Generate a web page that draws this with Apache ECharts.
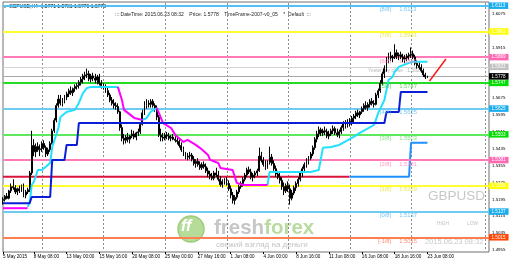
<!DOCTYPE html>
<html><head><meta charset="utf-8">
<script src="https://cdn.jsdelivr.net/npm/echarts@6/dist/echarts.min.js"></script>
<style>html,body{margin:0;padding:0;background:#fff}#c{width:510px;height:262px}</style>
</head><body><div id="c"></div>
<script>
// ---------- data (prices in 1/10000 above 1.0000: 5190 -> 1.5190) ----------
// candles: [open, high, low, close], GBPUSD H4 from 5 May 20:00 to 23 Jun 08:00
const candles = [
[5190,5205,5170,5195],[5195,5215,5185,5210],[5210,5225,5195,5200],[5200,5240,5195,5235],[5235,5270,5225,5255],[5255,5290,5240,5250],
[5250,5262,5220,5230],[5230,5250,5215,5245],[5245,5260,5225,5235],[5235,5265,5230,5255],[5255,5270,5205,5215],[5215,5240,5200,5230],
[5230,5250,5220,5240],[5240,5330,5230,5320],[5320,5520,5310,5450],[5450,5480,5400,5420],[5420,5460,5395,5445],[5445,5465,5420,5430],
[5430,5455,5400,5435],[5435,5470,5420,5460],[5460,5475,5430,5440],[5440,5450,5395,5410],[5410,5440,5400,5430],[5430,5470,5420,5460],
[5460,5530,5455,5520],[5520,5580,5510,5570],[5570,5650,5560,5640],[5640,5690,5630,5670],[5670,5690,5640,5650],[5650,5675,5635,5665],
[5665,5690,5650,5680],[5680,5705,5665,5695],[5695,5720,5680,5710],[5710,5730,5690,5700],[5700,5725,5685,5720],[5720,5740,5705,5730],
[5730,5745,5715,5735],[5735,5760,5720,5750],[5750,5775,5735,5765],[5765,5790,5745,5780],[5780,5800,5760,5785],[5785,5815,5770,5790],
[5790,5805,5755,5765],[5765,5790,5750,5780],[5780,5795,5755,5770],[5770,5790,5745,5760],[5760,5785,5740,5775],[5775,5790,5735,5745],
[5745,5760,5720,5735],[5735,5745,5715,5725],[5725,5740,5700,5710],[5710,5725,5680,5690],[5690,5700,5655,5665],[5665,5680,5640,5650],
[5650,5670,5625,5640],[5640,5655,5620,5635],[5635,5650,5600,5610],[5610,5615,5520,5535],[5535,5550,5470,5485],[5485,5505,5455,5475],
[5475,5500,5460,5490],[5490,5510,5465,5480],[5480,5500,5460,5495],[5495,5525,5485,5505],[5505,5520,5480,5490],[5490,5515,5475,5510],
[5510,5530,5495,5515],[5515,5560,5505,5550],[5550,5620,5545,5605],[5605,5660,5595,5640],[5640,5670,5625,5650],[5650,5665,5630,5645],
[5645,5670,5630,5660],[5660,5670,5630,5640],[5640,5650,5610,5625],[5625,5640,5570,5585],[5585,5595,5490,5500],[5500,5530,5470,5490],
[5490,5510,5470,5485],[5485,5510,5475,5500],[5500,5515,5480,5495],[5495,5510,5475,5485],[5485,5500,5470,5490],[5490,5505,5475,5480],
[5480,5495,5465,5475],[5475,5490,5455,5470],[5470,5480,5440,5450],[5450,5465,5420,5430],[5430,5445,5400,5410],[5410,5420,5385,5395],
[5395,5415,5380,5400],[5400,5420,5385,5405],[5405,5415,5375,5385],[5385,5400,5355,5365],[5365,5385,5345,5375],[5375,5390,5350,5360],
[5360,5375,5335,5345],[5345,5370,5335,5360],[5360,5375,5340,5350],[5350,5365,5320,5330],[5330,5345,5300,5315],[5315,5330,5290,5305],
[5305,5320,5285,5295],[5295,5330,5285,5320],[5320,5345,5300,5310],[5310,5330,5280,5290],[5290,5305,5255,5265],[5265,5290,5250,5280],
[5280,5295,5265,5285],[5285,5300,5260,5270],[5270,5285,5235,5245],[5245,5260,5200,5215],[5215,5230,5175,5190],[5190,5215,5170,5205],
[5205,5240,5195,5230],[5230,5265,5220,5255],[5255,5280,5245,5270],[5270,5300,5255,5290],[5290,5320,5280,5310],[5310,5345,5300,5335],
[5335,5350,5315,5325],[5325,5340,5290,5300],[5300,5320,5280,5310],[5310,5330,5295,5320],[5320,5340,5305,5330],[5330,5440,5325,5400],
[5400,5420,5370,5380],[5380,5395,5350,5360],[5360,5380,5335,5345],[5345,5380,5340,5370],[5370,5445,5360,5395],[5395,5410,5355,5365],
[5365,5380,5330,5340],[5340,5355,5300,5315],[5315,5330,5290,5300],[5300,5320,5270,5285],[5285,5300,5240,5255],[5255,5275,5215,5235],
[5235,5270,5225,5260],[5260,5280,5230,5245],[5245,5265,5170,5200],[5200,5240,5190,5225],[5225,5260,5215,5250],[5250,5280,5235,5270],
[5270,5300,5255,5290],[5290,5330,5280,5320],[5320,5350,5300,5340],[5340,5370,5325,5360],[5360,5390,5345,5375],[5375,5400,5360,5390],
[5390,5420,5380,5410],[5410,5450,5400,5440],[5440,5490,5430,5480],[5480,5520,5465,5505],[5505,5540,5490,5525],[5525,5535,5495,5510],
[5510,5530,5495,5520],[5520,5540,5500,5515],[5515,5530,5485,5495],[5495,5520,5480,5505],[5505,5530,5495,5520],[5520,5545,5505,5530],
[5530,5540,5500,5510],[5510,5530,5490,5500],[5500,5525,5485,5515],[5515,5545,5505,5535],[5535,5565,5520,5555],[5555,5570,5530,5545],
[5545,5575,5535,5565],[5565,5580,5540,5555],[5555,5590,5545,5580],[5580,5600,5560,5590],[5590,5615,5575,5605],[5605,5620,5585,5595],
[5595,5615,5580,5610],[5610,5635,5600,5625],[5625,5650,5610,5640],[5640,5660,5620,5630],[5630,5655,5615,5645],[5645,5670,5630,5660],
[5660,5675,5640,5650],[5650,5665,5630,5645],[5645,5700,5640,5690],[5690,5720,5675,5710],[5710,5760,5700,5745],[5745,5800,5735,5790],
[5790,5830,5770,5815],[5815,5870,5800,5855],[5855,5890,5840,5875],[5875,5895,5850,5865],[5865,5880,5845,5870],[5870,5930,5860,5890],
[5890,5905,5860,5875],[5875,5890,5855,5880],[5880,5895,5860,5870],[5870,5885,5845,5860],[5860,5880,5840,5865],[5865,5885,5850,5875],
[5875,5890,5855,5880],[5880,5915,5865,5885],[5885,5900,5860,5870],[5870,5880,5830,5840],[5840,5855,5815,5830],[5830,5845,5810,5820],
[5820,5835,5795,5805],[5805,5815,5775,5785],[5785,5795,5765,5775],[5775,5781,5770,5778]
];
// time-axis tick labels (first one at the left edge, then one every 16 bars back from the last bar)
const tickLabels = ['5 May 2015','8 May 08:00','13 May 00:00','15 May 16:00','20 May 08:00','25 May 00:00','27 May 16:00',
  '1 Jun 08:00','4 Jun 00:00','8 Jun 16:00','11 Jun 08:00','16 Jun 08:00','18 Jun 16:00','23 Jun 08:00'];
// price-axis tick labels
const priceTicks = [1.6075,1.5915,1.5675,1.5595,1.5515,1.5435,1.5355,1.5275,1.5195,1.5115,1.5035,1.4955];
// Murrey math levels
const levels = [1.6113,1.5991,1.5869,1.5747,1.5625,1.5503,1.5381,1.5259,1.5137,1.5015];
const levelNames = ['[8/8]','[7/8]','[6/8]','[5/8]','[4/8]','[3/8]','[2/8]','[1/8]','[0/8]','[-1/8]'];
const yesterdayClose = 1.5823;
const lastPrice = 1.5778;
// indicator lines: vertices [barIndex, price]
const cyanSegs = [
  [[12,1.5160],[13,1.5177],[14,1.5263],[15,1.5277],[17,1.5334],[19,1.5334],[23,1.5367],[24,1.5443],[27,1.5533],[28,1.5585],[31,1.5609],[35,1.5619],[37,1.5652],[39,1.5699],[41,1.5723],[43,1.5728],[56,1.5728]],
  [[68,1.5571],[70,1.5580],[72,1.5610],[75,1.5628]],
  [[129,1.5263],[130,1.5325],[150,1.5325],[154,1.5334],[156,1.5439],[160,1.5443],[164,1.5453],[171,1.5491],[174,1.5510],[181,1.5548],[183,1.5605],[186,1.5666],[187,1.5713],[188,1.5761],[190,1.5775],[191,1.5799],[193,1.5823],[198,1.5842],[200,1.5847],[207,1.5847]]
];
const magentaSegs = [
  [[0,1.5153],[12,1.5153]],
  [[56,1.5728],[58,1.5666],[59,1.5619],[64,1.5581],[68,1.5571]],
  [[75,1.5628],[78,1.5557],[82,1.5533],[84,1.5500],[88,1.5467],[90,1.5477],[94,1.5453],[96,1.5439],[100,1.5405],[101,1.5382],[105,1.5367],[106,1.5344],[112,1.5334],[114,1.5273],[117,1.5263],[129,1.5263]]
];
const blueStep = [[0,1.5177],[13,1.5177],[14,1.5206],[23,1.5206],[24,1.5382],[30,1.5382],[31,1.5453],[36,1.5453],[37,1.5557],[186,1.5557],[187,1.5609],[193,1.5609],[194,1.5704],[207,1.5704]];
const redTrend = [[0,1.5302],[169,1.5302]];
const blueTrend = [[169,1.5302],[198,1.5302],[199,1.5463],[207,1.5463]];
const forecastLine = [[208,1.5756],[216,1.5860]];

// ---------- chart ----------
const NCAT = 238;
const YMIN = 1.49453, YMAX = 1.61305;
const cats = Array.from({length:NCAT},(_,i)=>'b'+i);
const P = v => 1 + v/10000;
const ohlc = candles.map(c => [P(c[0]), P(c[3]), P(c[2]), P(c[1])]);
const last = candles.length - 1;
const labelMap = {};
labelMap[0] = tickLabels[0];
for (let k = 1; k < tickLabels.length; k++) labelMap[last - 16*(tickLabels.length-1-k)] = tickLabels[k];
const weekBars = [];
for (let b = 19; b <= last; b += 30) weekBars.push(b);
weekBars.push(235);

const lineCols = ['#52c2f5','#ffff30','#ff7ab6','#25dc25','#70cbf2','#5ee85e','#ff7ab6','#ffff30','#70cbf2','#ff7f50'];
const boxCols  = ['#19adf0','#ffff00','#ff69b4','#00dd00','#19adf0','#00dd00','#ff69b4','#ffff00','#19adf0','#ff4500'];
const txtCols  = ['#56b8ea','#e2e22c','#ff80b8','#3ccc3c','#56b8ea','#66d866','#ff80b8','#e2e22c','#56b8ea','#ff7050'];
const FONT = 'Liberation Sans, Arial, sans-serif';

const ml = [];
levels.forEach((v,i)=>ml.push({yAxis:v, lineStyle:{color:lineCols[i], width:2, type:'solid'},
  label:{backgroundColor:boxCols[i]}}));
ml.push({yAxis:yesterdayClose, lineStyle:{color:'#d4d4d4', width:1, type:'solid'}, label:{backgroundColor:'#c0c0c0'}});
ml.push({yAxis:lastPrice, lineStyle:{color:'#a8a8a8', width:1, type:'solid'}, label:{backgroundColor:'#000'}});

const series = [];
// weekly dotted grid lines (custom series, positioned through the axis scale)
series.push({type:'custom', data: weekBars.map(b=>[b, YMAX]), z:1, silent:true, clip:false,
  renderItem:(params, api) => {
    const p1 = api.coord([api.value(0), YMAX]);
    const p2 = api.coord([api.value(0), YMIN]);
    const x = Math.round(p1[0]);
    const children = [];
    for (let y = Math.ceil(p1[1]) + 1; y < p2[1] - 1; y += 4)
      children.push({type:'rect', shape:{x:x, y:y, width:1, height:2}, style:{fill:'#8c8c8c'}});
    return {type:'group', children};
  }});
series.push({type:'line', data:[], silent:true, z:2, markLine:{silent:true, symbol:'none', animation:false, precision:4,
  label:{show:true, position:'end', distance:0, color:'#fff', fontSize:4.6, fontFamily:FONT, padding:[1,3,0.5,2.5],
    formatter:p=>p.value.toFixed(4)}, data: ml}});
series.push({type:'candlestick', data:ohlc, z:5, barWidth:1.4,
  itemStyle:{color:'#ffffff', color0:'#000000', borderColor:'#000000', borderColor0:'#000000', borderWidth:1}});
function addLine(pts, color, width, z){
  series.push({type:'line', data:pts, showSymbol:false, symbol:'none', z:z||6, silent:true,
    lineStyle:{color, width}, animation:false});
}
cyanSegs.forEach(s=>addLine(s,'#22e0ff',2));
magentaSegs.forEach(s=>addLine(s,'#ff00ff',2));
addLine(blueStep,'#0a1ed8',2);
addLine(redTrend,'#dc143c',2,4);
addLine(blueTrend,'#1e90ff',2,4);
addLine(forecastLine,'#ff1a1a',1.5);
// level captions
const anchor = 191;
series.push({type:'scatter', symbolSize:1, itemStyle:{color:'transparent'}, silent:true, z:7,
  data: levels.map((v,i)=>({value:[anchor,v], label:{color:txtCols[i]}})),
  label:{show:true, position:'left', distance:3, offset:[0,4], fontSize:5.8, fontFamily:FONT,
    formatter:p=>levelNames[p.dataIndex]}});
series.push({type:'scatter', symbolSize:1, itemStyle:{color:'transparent'}, silent:true, z:7,
  data: levels.map((v,i)=>({value:[anchor,v], label:{color:txtCols[i]}})),
  label:{show:true, position:'right', distance:4, offset:[0,4], fontSize:5.8, fontFamily:FONT,
    formatter:p=>levels[p.dataIndex].toFixed(4)}});

const chart = echarts.init(document.getElementById('c'));
chart.setOption({
  animation:false,
  backgroundColor:'#ffffff',
  grid:{left:3, right:21, top:2, bottom:10, show:true, borderColor:'#707070', borderWidth:1, backgroundColor:'transparent'},
  xAxis:{type:'category', data:cats, boundaryGap:false,
    axisLine:{show:false},
    axisTick:{show:true, length:2, lineStyle:{color:'#000'}, interval:(i)=>labelMap[i]!==undefined},
    axisLabel:{interval:(i)=>labelMap[i]!==undefined, formatter:(v,i)=>labelMap[i]||'', fontSize:4.6, fontFamily:FONT,
      color:'#000', align:'left', margin:2, hideOverlap:false, showMinLabel:true},
    splitLine:{show:false}},
  yAxis:{type:'value', position:'right', min:YMIN, max:YMAX, scale:true,
    axisLine:{show:false}, axisTick:{show:false}, splitLine:{show:false},
    axisLabel:{customValues:priceTicks, formatter:v=>v.toFixed(4), fontSize:4.4, fontFamily:FONT, color:'#000', margin:3}},
  series,
  graphic:[
    {type:'polygon', shape:{points:[[3,5],[7,5],[5,8]]}, style:{fill:'#000'}},
    {type:'text', left:9, top:4, style:{text:'GBPUSD,H4  1.5771 1.5781 1.5770 1.5778', fontSize:5, fontFamily:FONT, fill:'#000'}},
    {type:'text', left:115, top:12, style:{text:'::: DateTime: 2015.06.23 08:32    Price: 1.5778    TimeFrame-2007-v0_05    *  Default  :::', fontSize:5, fontFamily:FONT, fill:'#222'}},
    {type:'text', left:368, top:68, z:3, style:{text:'Yesterday close : 1.5823', fontSize:5, fontFamily:FONT, fill:'#b8b8b8'}},
    {type:'text', left:428, top:189, style:{text:'GBPUSD', fontSize:13.5, fontFamily:FONT, fill:'#c8c8c8'}},
    {type:'text', left:437, top:221, style:{text:'HIGH', fontSize:4.8, fontFamily:FONT, fill:'#c0c0c0'}},
    {type:'text', left:467, top:221, style:{text:'LOW', fontSize:4.8, fontFamily:FONT, fill:'#c0c0c0'}},
    {type:'text', left:425, top:238, style:{text:'2015.06.23 08:32', fontSize:7.5, fontFamily:FONT, fill:'#c8c8c8'}},
    {type:'circle', shape:{cx:191, cy:229, r:13}, style:{fill:'#b5dc98', stroke:'#9ccc7c', lineWidth:1.5}},
    {type:'text', left:181, top:219, style:{text:'ff', fontSize:16, fontStyle:'italic', fontWeight:'bold', fontFamily:FONT, fill:'#ffffff'}},
    {type:'text', left:214, top:218, style:{rich:{a:{fontSize:20.5, fontWeight:'bold', fontFamily:FONT, fill:'#c6c6c6'}, b:{fontSize:20.5, fontWeight:'bold', fontFamily:FONT, fill:'#b8dba0'}}, text:'{a|fresh}{b|forex}'}},
    {type:'text', left:216, top:241, style:{text:'свежий взгляд на деньги', fontSize:8, fontFamily:FONT, fill:'#c4c4c4'}}
  ]
});
</script></body></html>
